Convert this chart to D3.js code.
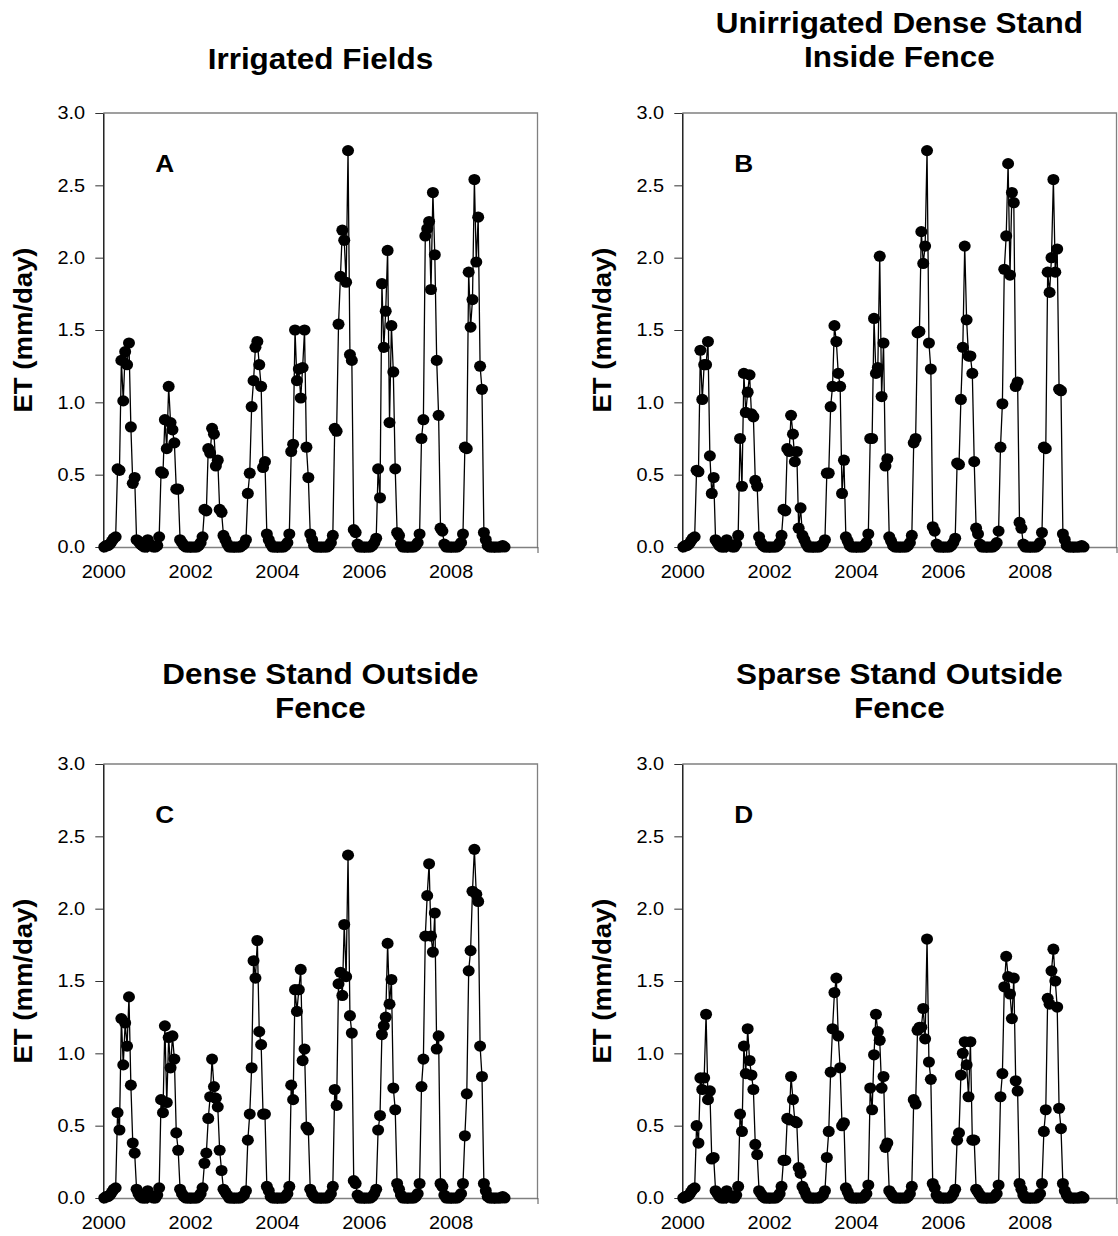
<!DOCTYPE html>
<html>
<head>
<meta charset="utf-8">
<script src="https://cdn.jsdelivr.net/npm/d3@7"></script>
<style>
  body { margin: 0; background: #fff; }
  svg { display: block; font-family: "Liberation Sans", Arial, sans-serif; }
</style>
</head>
<body>
<div id="chart"></div>
<script>
// 16-day composite periods (start day of year)
var compositeDays = [1, 17, 33, 49, 65, 81, 97, 113, 129, 145, 161, 177, 193, 209, 225, 241, 257, 273, 289, 305, 321, 337, 353]
var years = [2000, 2001, 2002, 2003, 2004, 2005, 2006, 2007, 2008, 2009]
var yTicks = [0, 0.5, 1.0, 1.5, 2.0, 2.5, 3.0]
var xLabelYears = [2000, 2002, 2004, 2006, 2008]

// ET (mm/day), one row per year
var etIrrigated = [
  [0.00,0.01,0.01,0.02,0.04,0.06,0.07,0.54,0.53,1.29,1.01,1.35,1.26,1.41,0.83,0.44,0.48,0.05,0.04,0.02,0.01,0.00,0.00],
  [0.05,0.02,0.01,0.00,0.00,0.01,0.07,0.52,0.51,0.88,0.68,1.11,0.86,0.81,0.72,0.40,0.40,0.05,0.03,0.01,0.00,0.00,0.00],
  [0.00,0.00,0.00,0.00,0.01,0.03,0.07,0.26,0.25,0.68,0.65,0.82,0.78,0.56,0.60,0.26,0.24,0.08,0.05,0.02,0.00,0.00,0.00],
  [0.00,0.00,0.00,0.00,0.01,0.02,0.05,0.37,0.51,0.97,1.15,1.38,1.42,1.26,1.11,0.55,0.59,0.09,0.05,0.02,0.00,0.00,0.00],
  [0.00,0.00,0.00,0.00,0.01,0.03,0.09,0.66,0.71,1.50,1.15,1.23,1.03,1.24,1.50,0.69,0.48,0.09,0.05,0.01,0.00,0.00,0.00],
  [0.00,0.00,0.00,0.00,0.01,0.03,0.08,0.82,0.80,1.54,1.87,2.19,2.12,1.83,2.74,1.33,1.29,0.12,0.10,0.02,0.00,0.00,0.00],
  [0.00,0.00,0.00,0.00,0.01,0.03,0.06,0.54,0.34,1.82,1.38,1.63,2.05,0.86,1.53,1.21,0.54,0.10,0.08,0.02,0.00,0.00,0.00],
  [0.00,0.00,0.00,0.00,0.01,0.03,0.09,0.75,0.88,2.15,2.20,2.25,1.78,2.45,2.02,1.29,0.91,0.13,0.11,0.02,0.00,0.00,0.00],
  [0.00,0.00,0.00,0.00,0.01,0.03,0.09,0.69,0.68,1.90,1.52,1.71,2.54,1.97,2.28,1.25,1.09,0.10,0.05,0.01,0.00,0.00,0.00],
  [0.00,0.00,0.00,0.00,0.01,0.00]
]

var etDenseInside = [
  [0.00,0.01,0.01,0.02,0.04,0.06,0.07,0.53,0.52,1.36,1.02,1.26,1.26,1.42,0.63,0.37,0.48,0.05,0.03,0.01,0.00,0.00,0.00],
  [0.05,0.02,0.01,0.00,0.00,0.02,0.08,0.75,0.42,1.20,0.93,1.07,1.19,0.92,0.90,0.46,0.42,0.07,0.03,0.01,0.00,0.00,0.00],
  [0.00,0.00,0.00,0.00,0.01,0.03,0.08,0.26,0.25,0.68,0.66,0.91,0.78,0.59,0.66,0.13,0.27,0.08,0.05,0.02,0.00,0.00,0.00],
  [0.00,0.00,0.00,0.00,0.01,0.02,0.05,0.51,0.51,0.97,1.11,1.53,1.42,1.20,1.11,0.37,0.60,0.07,0.04,0.01,0.00,0.00,0.00],
  [0.00,0.00,0.00,0.00,0.01,0.03,0.09,0.75,0.75,1.58,1.20,1.24,2.01,1.04,1.41,0.56,0.61,0.07,0.04,0.01,0.00,0.00,0.00],
  [0.00,0.00,0.00,0.00,0.01,0.03,0.08,0.72,0.75,1.48,1.49,2.18,1.96,2.08,2.74,1.41,1.23,0.14,0.11,0.02,0.00,0.00,0.00],
  [0.00,0.00,0.00,0.00,0.01,0.03,0.06,0.58,0.57,1.02,1.38,2.08,1.57,1.32,1.32,1.20,0.59,0.13,0.09,0.02,0.00,0.00,0.00],
  [0.00,0.00,0.00,0.00,0.01,0.03,0.11,0.69,0.99,1.92,2.15,2.65,1.88,2.45,2.38,1.11,1.14,0.17,0.13,0.02,0.00,0.00,0.00],
  [0.00,0.00,0.00,0.00,0.01,0.03,0.10,0.69,0.68,1.90,1.76,2.00,2.54,1.90,2.06,1.09,1.08,0.09,0.05,0.01,0.00,0.00,0.00],
  [0.00,0.00,0.00,0.00,0.01,0.00]
]

var etDenseOutside = [
  [0.00,0.01,0.01,0.02,0.04,0.06,0.07,0.59,0.47,1.24,0.92,1.21,1.05,1.39,0.78,0.38,0.31,0.06,0.03,0.01,0.00,0.00,0.00],
  [0.05,0.02,0.01,0.00,0.00,0.02,0.07,0.68,0.59,1.19,0.66,1.11,0.90,1.12,0.96,0.45,0.33,0.06,0.03,0.01,0.00,0.00,0.00],
  [0.00,0.00,0.00,0.00,0.01,0.03,0.07,0.24,0.31,0.55,0.70,0.96,0.77,0.69,0.63,0.33,0.19,0.06,0.04,0.02,0.00,0.00,0.00],
  [0.00,0.00,0.00,0.00,0.01,0.02,0.05,0.40,0.58,0.90,1.64,1.52,1.78,1.15,1.06,0.58,0.58,0.08,0.05,0.01,0.00,0.00,0.00],
  [0.00,0.00,0.00,0.00,0.01,0.03,0.08,0.78,0.68,1.44,1.29,1.44,1.58,0.95,1.03,0.49,0.47,0.06,0.03,0.01,0.00,0.00,0.00],
  [0.00,0.00,0.00,0.00,0.01,0.03,0.08,0.75,0.64,1.48,1.56,1.40,1.89,1.53,2.37,1.26,1.14,0.12,0.10,0.02,0.00,0.00,0.00],
  [0.00,0.00,0.00,0.00,0.01,0.03,0.06,0.47,0.57,1.13,1.19,1.25,1.76,1.34,1.51,0.76,0.61,0.10,0.06,0.02,0.00,0.00,0.00],
  [0.00,0.00,0.00,0.00,0.01,0.03,0.10,0.77,0.96,1.81,2.09,2.31,1.81,1.70,1.97,1.03,1.12,0.10,0.08,0.02,0.00,0.00,0.00],
  [0.00,0.00,0.00,0.00,0.01,0.03,0.10,0.43,0.72,1.57,1.71,2.12,2.41,2.10,2.05,1.05,0.84,0.10,0.05,0.01,0.00,0.00,0.00],
  [0.00,0.00,0.00,0.00,0.01,0.00]
]

var etSparseOutside = [
  [0.00,0.01,0.01,0.02,0.04,0.06,0.07,0.50,0.38,0.83,0.75,0.83,1.27,0.68,0.74,0.27,0.28,0.05,0.03,0.01,0.00,0.00,0.00],
  [0.05,0.02,0.01,0.00,0.00,0.02,0.08,0.58,0.46,1.05,0.86,1.17,0.95,0.85,0.75,0.37,0.30,0.05,0.03,0.01,0.00,0.00,0.00],
  [0.00,0.00,0.00,0.00,0.01,0.03,0.08,0.26,0.26,0.55,0.54,0.84,0.68,0.53,0.52,0.21,0.17,0.08,0.05,0.02,0.00,0.00,0.00],
  [0.00,0.00,0.00,0.00,0.01,0.02,0.05,0.28,0.46,0.87,1.17,1.42,1.52,1.12,0.90,0.50,0.52,0.07,0.04,0.01,0.00,0.00,0.00],
  [0.00,0.00,0.00,0.00,0.01,0.03,0.09,0.76,0.61,0.99,1.27,1.15,1.09,0.76,0.84,0.35,0.38,0.05,0.03,0.01,0.00,0.00,0.00],
  [0.00,0.00,0.00,0.00,0.01,0.03,0.08,0.68,0.65,1.16,1.18,1.18,1.31,1.10,1.79,0.94,0.82,0.10,0.07,0.02,0.00,0.00,0.00],
  [0.00,0.00,0.00,0.00,0.01,0.03,0.06,0.40,0.45,0.85,1.00,1.08,0.92,0.70,1.08,0.40,0.40,0.06,0.04,0.02,0.00,0.00,0.00],
  [0.00,0.00,0.00,0.00,0.01,0.03,0.09,0.70,0.86,1.46,1.67,1.53,1.41,1.24,1.52,0.81,0.74,0.10,0.06,0.02,0.00,0.00,0.00],
  [0.00,0.00,0.00,0.00,0.01,0.03,0.10,0.46,0.61,1.38,1.34,1.57,1.72,1.50,1.32,0.62,0.48,0.10,0.05,0.02,0.00,0.00,0.00],
  [0.00,0.00,0.00,0.00,0.01,0.00]
]

var panelSeries = [etIrrigated, etDenseInside, etDenseOutside, etSparseOutside]
var panelTitles = [
  ["Irrigated Fields"],
  ["Unirrigated Dense Stand", "Inside Fence"],
  ["Dense Stand Outside", "Fence"],
  ["Sparse Stand Outside", "Fence"]
]
var panelLetters = ["A", "B", "C", "D"]

var W = 1118, H = 1236
var plotW = 434.2, plotH = 434
var panelPos = [
  { left: 103.3, top: 113 },
  { left: 682.3, top: 113 },
  { left: 103.3, top: 764 },
  { left: 682.3, top: 764 }
]

var svg = d3.select("#chart").append("svg")
  .attr("width", W)
  .attr("height", H)

var x = d3.scaleTime()
  .domain([new Date(2000, 0, 1), new Date(2010, 0, 1)])
  .range([0, plotW])

var y = d3.scaleLinear()
  .domain([0, 3])
  .range([plotH, 0])

function toPoints(rows) {
  var pts = []
  rows.forEach(function (row, yi) {
    row.forEach(function (v, di) {
      pts.push({ date: new Date(years[yi], 0, compositeDays[di] + 8), value: v })
    })
  })
  return pts
}

panelSeries.forEach(function (rows, i) { drawPanel(i, toPoints(rows)) })

function drawPanel(i, data) {
  var pos = panelPos[i]
  var g = svg.append("g")
    .attr("transform", "translate(" + pos.left + "," + pos.top + ")")

  // title, one or two lines
  var title = panelTitles[i]
  var titleBase = title.length === 1 ? -44 : -80
  title.forEach(function (line, li) {
    g.append("text")
      .attr("transform", "translate(" + (plotW / 2) + "," + (titleBase + li * 34) + ") scale(1.085,1)")
      .attr("text-anchor", "middle")
      .style("font-size", "29px")
      .style("font-weight", "bold")
      .text(line)
  })

  // y axis label
  g.append("text")
    .attr("transform", "translate(-71," + (plotH / 2) + ") rotate(-90) scale(1.1,1)")
    .attr("text-anchor", "middle")
    .style("font-size", "25px")
    .style("font-weight", "bold")
    .text("ET (mm/day)")

  // top and right frame
  g.append("path")
    .attr("d", "M0,0H" + plotW + "V" + plotH)
    .attr("fill", "none")
    .attr("stroke", "#808080")
    .attr("stroke-width", 1.3)

  var xAxis = d3.axisBottom(x)
    .ticks(d3.timeYear.every(1))
    .tickSize(6)
    .tickSizeOuter(0)
    .tickPadding(12)
    .tickFormat(function (d) {
      var yr = d.getFullYear()
      return xLabelYears.indexOf(yr) >= 0 ? yr : ""
    })

  var gx = g.append("g")
    .attr("transform", "translate(0," + plotH + ")")
    .call(xAxis)
  gx.select(".domain").attr("stroke", "#808080").attr("stroke-width", 1.3)
  gx.selectAll(".tick line").attr("stroke", "#555")
  gx.selectAll(".tick text")
    .attr("fill", "#000")
    .style("font-size", "18.6px")
    .style("font-family", "Liberation Sans, Arial, sans-serif")
    .attr("transform", "scale(1.07,1)")

  var yAxis = d3.axisLeft(y)
    .tickValues(yTicks)
    .tickSize(8)
    .tickSizeOuter(0)
    .tickPadding(9)
    .tickFormat(d3.format(".1f"))

  var gy = g.append("g").call(yAxis)
  gy.select(".domain").attr("stroke", "#000").attr("stroke-width", 1.3)
  gy.selectAll(".tick line").attr("stroke", "#333")
  gy.selectAll(".tick text")
    .attr("fill", "#000")
    .style("font-size", "18.6px")
    .style("font-family", "Liberation Sans, Arial, sans-serif")
    .attr("transform", "scale(1.07,1)")

  // panel letter
  g.append("text")
    .attr("transform", "translate(" + x(new Date(2001, 5, 1)) + "," + y(2.59) + ") scale(1.07,1)")
    .attr("text-anchor", "middle")
    .style("font-size", "24.5px")
    .style("font-weight", "bold")
    .text(panelLetters[i])

  var line = d3.line()
    .x(function (d) { return x(d.date) })
    .y(function (d) { return y(d.value) })

  g.append("path")
    .datum(data)
    .attr("fill", "none")
    .attr("stroke", "#000")
    .attr("stroke-width", 1.3)
    .attr("d", line)

  g.append("g").selectAll("ellipse").data(data)
    .enter().append("ellipse")
    .attr("cx", function (d) { return x(d.date) })
    .attr("cy", function (d) { return y(d.value) })
    .attr("rx", 6)
    .attr("ry", 5.6)
    .attr("fill", "#000")
}
</script>
</body>
</html>
